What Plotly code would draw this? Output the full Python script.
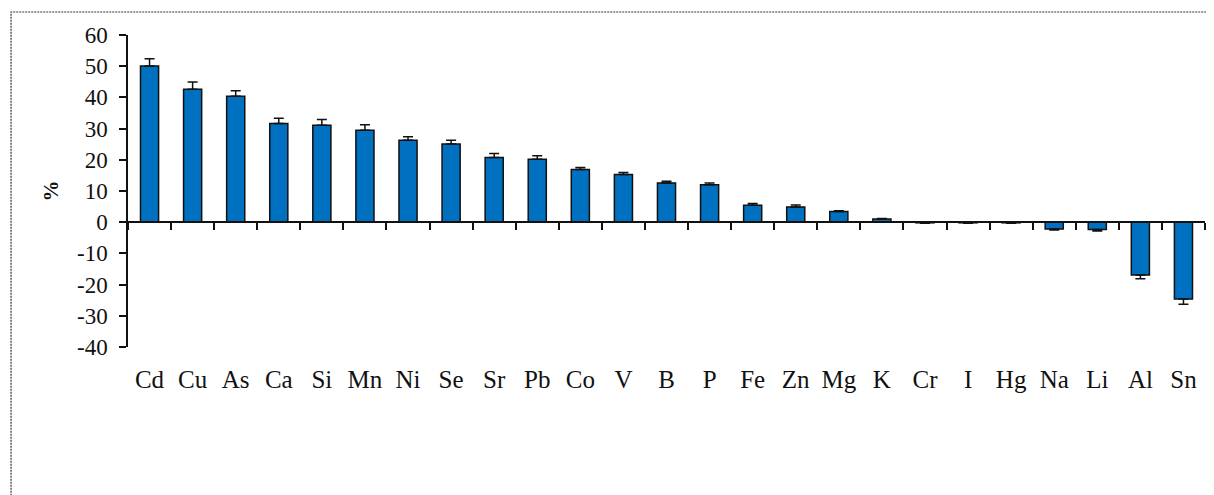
import plotly.graph_objects as go

elements = ["Cd", "Cu", "As", "Ca", "Si", "Mn", "Ni", "Se", "Sr", "Pb", "Co", "V",
            "B", "P", "Fe", "Zn", "Mg", "K", "Cr", "I", "Hg", "Na", "Li", "Al", "Sn"]
values = [50.1, 42.6, 40.4, 31.6, 31.1, 29.5, 26.3, 25.1, 20.7, 20.2, 16.9, 15.3,
          12.6, 12.0, 5.4, 4.9, 3.4, 1.0, -0.2, -0.2, -0.2, -2.2, -2.3, -16.9, -24.6]
errors = [2.3, 2.3, 1.7, 1.7, 1.8, 1.7, 1.1, 1.2, 1.3, 1.1, 0.6, 0.6,
          0.5, 0.6, 0.6, 0.6, 0.3, 0.2, 0.1, 0.1, 0.1, 0.3, 0.5, 1.2, 1.7]
y_ticks = [-40, -30, -20, -10, 0, 10, 20, 30, 40, 50, 60]
y_tick_labels = ["-40", "-30", "-20", "-10", "0", "10", "20", "30", "40", "50", "60"]

err_plus = [e if v >= 0 else 0 for v, e in zip(values, errors)]
err_minus = [e if v < 0 else 0 for v, e in zip(values, errors)]

FONT = "Liberation Serif, Times New Roman, serif"

fig = go.Figure(go.Bar(
    x=elements, y=values, width=0.42,
    marker=dict(color="#0070C0", line=dict(color="#111111", width=1.5)),
    error_y=dict(type="data", symmetric=False, array=err_plus, arrayminus=err_minus,
                 color="#111111", thickness=1.5, width=5),
))

# page body has an 8px margin, so the figure is sized/offset to compensate
fig.update_layout(
    width=1206, height=487,
    margin=dict(l=120, r=9, t=27, b=148, autoexpand=False),
    paper_bgcolor="white", plot_bgcolor="white",
    showlegend=False,
    font=dict(family=FONT, color="#111111"),
    xaxis=dict(
        anchor="free", position=0.4, automargin=False,
        showline=True, linecolor="#111111", linewidth=1.5,
        ticks="outside", ticklen=7, tickwidth=1.5, tickcolor="#111111",
        tickson="boundaries", showgrid=False, tickangle=0,
        tickfont=dict(size=25, family=FONT, color="#111111"),
        ticklabelstandoff=135,
    ),
    yaxis=dict(
        range=[-40, 60], tickvals=y_ticks, ticktext=y_tick_labels, automargin=False,
        showline=True, linecolor="#111111", linewidth=1.5,
        ticks="outside", ticklen=7, tickwidth=1.5, tickcolor="#111111",
        ticklabelstandoff=7,
        showgrid=False, zeroline=False,
        tickfont=dict(size=23, family=FONT, color="#111111"),
        title=dict(text="<b>%</b>", font=dict(size=21, family=FONT, color="#111111"), standoff=13),
    ),
    shapes=[dict(type="rect", xref="paper", yref="paper",
                 x0=-0.1086, x1=1.02, y0=-0.6, y1=1.0737,
                 line=dict(color="#333333", width=1.2, dash="2px,1px"))],
)

fig.write_html("out.html")
